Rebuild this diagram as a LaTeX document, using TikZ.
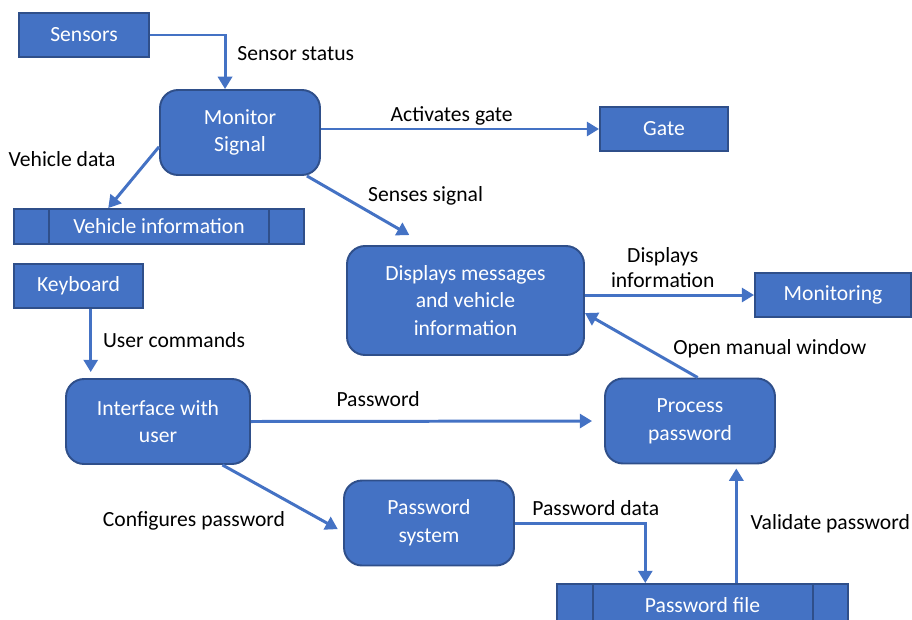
\documentclass[tikz,border=0pt]{standalone}
\usepackage{fontspec}
\setmainfont{Carlito}
\usetikzlibrary{arrows.meta}
\definecolor{boxblue}{HTML}{4472C4}
\definecolor{boxline}{HTML}{2F4F8A}

\tikzset{
  extbox/.style={rectangle,draw=boxline,line width=1.1pt,fill=boxblue,text=white,minimum height=0.88cm},
  procbox/.style={extbox,rounded corners=0.36cm,align=center,minimum height=1.7cm,font=\fontsize{12.3}{15.8}\selectfont},
  storebox/.style={extbox,minimum height=0.7cm},
  flow/.style={-{Triangle[length=7pt,width=8pt]},draw=boxblue,line width=1.7pt}
}

\begin{document}
\begin{tikzpicture}[x=0.02cm,y=-0.02cm,font=\fontsize{12.3}{14.2}\selectfont]
  \useasboundingbox (0,0) rectangle (912,619);

  \node[extbox,minimum width=2.6cm] (sens) at (84,35) {Sensors};
  \node[procbox,minimum width=3.2cm] (mon) at (240,132.5) {Monitor\\Signal};
  \node[extbox,minimum width=2.56cm] (gate) at (664,129) {Gate};
  \node[storebox,minimum width=5.8cm] (vinfo) at (159,226.5) {Vehicle information};
  \node[extbox,minimum width=2.58cm] (kbd) at (78.5,286) {Keyboard};
  \node[procbox,minimum width=4.74cm,minimum height=2.18cm] (disp) at (465.5,300.5) {Displays messages\\and vehicle\\information};
  \node[extbox,minimum width=3.12cm] (moni) at (833,295) {Monitoring};
  \node[procbox,minimum width=3.68cm] (iface) at (158,421.5) {Interface with\\user};
  \node[procbox,minimum width=3.4cm] (pcheck) at (690,421) {Process\\password};
  \node[procbox,minimum width=3.4cm] (pwsys) at (429,523) {Password\\system};
  \node[storebox,minimum width=5.82cm,minimum height=0.84cm] (pwfile) at (702.5,605) {Password file};

  % data store dividers
  \draw[boxline,line width=1.1pt] ([xshift=0.72cm]vinfo.north west) -- ([xshift=0.72cm]vinfo.south west)
    ([xshift=-0.72cm]vinfo.north east) -- ([xshift=-0.72cm]vinfo.south east);
  \draw[boxline,line width=1.1pt] ([xshift=0.74cm]pwfile.north west) -- ([xshift=0.74cm]pwfile.south west)
    ([xshift=-0.72cm]pwfile.north east) -- ([xshift=-0.72cm]pwfile.south east);

  % flows
  \path[flow] (sens.east) -| node[pos=0.67,right=0.1cm] (lsens) {Sensor status} (mon.109);
  \path[flow] (mon.east |- gate.west) -- node[above,pos=0.47,yshift=-2pt] (lgate) {Activates gate} (gate.west);
  \path[flow] (mon.190) -- node[pos=0.2,left=0.52cm] (lvdata) {Vehicle data} (vinfo.160);
  \path[flow,shorten >=0.4cm] (mon.-33) -- node[pos=0.45,above right,yshift=-3pt] (lsense) {Senses signal} (disp.125);
  \path[flow] (disp.east |- moni.west) -- node[above,pos=0.46,align=center] (ldisp) {Displays\\information} (moni.west);
  \path[flow] (pcheck.80) -- node[pos=0.45,right=0.38cm] (lmanual) {Open manual window} (disp.-6);
  \path[flow,shorten >=0.12cm] (kbd.-62) -- node[pos=0.45,right=0.1cm] (lcmd) {User commands} (kbd.-62 |- iface.north);
  \path[flow,shorten >=0.24cm] (iface.east) -- node[above=0.15cm,pos=0.36] (lpass) {Password} (pcheck.west);
  \path[flow,shorten >=0.12cm] (iface.-34) -- node[below left,pos=0.58] (lconf) {Configures password} (pwsys.186);
  \path[flow] (pwsys.east) -| node[above,pos=0.31] (lpdata) {Password data} (pwfile.159);
  \path[flow,shorten >=0.08cm] (pwfile.33) -- node[right=0.14cm] (lvalid) {Validate password} (pwfile.33 |- pcheck.south);
\end{tikzpicture}
\end{document}
